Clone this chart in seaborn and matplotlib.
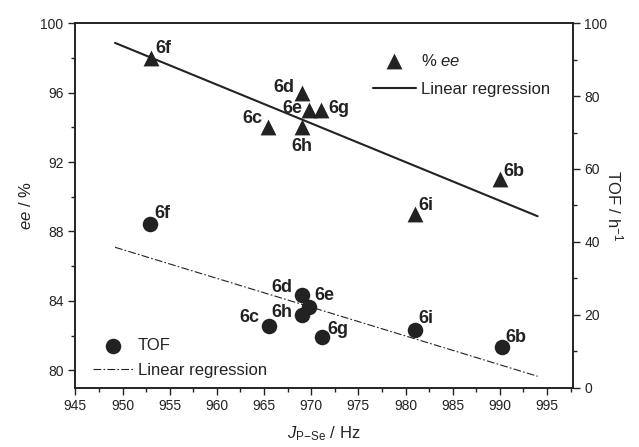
import numpy as np
import matplotlib
matplotlib.use("Agg")
import matplotlib.pyplot as plt
import matplotlib.ticker as ticker
import seaborn as sns
import pandas as pd

# data
labels = ["6f", "6d", "6e", "6g", "6c", "6h", "6b", "6i"]
j_ee = [953.0, 969.0, 969.8, 971.0, 965.4, 969.0, 990.0, 981.0]
ee = [98.0, 96.0, 95.0, 95.0, 94.0, 94.0, 91.0, 89.0]

tof_labels = ["6f", "6d", "6e", "6h", "6c", "6g", "6i", "6b"]
j_tof = [952.9, 969.0, 969.8, 969.0, 965.5, 971.1, 981.0, 990.2]
tof = [44.8, 25.3, 22.1, 19.9, 16.9, 14.0, 15.8, 11.0]

fit_range = [949.2, 994.0]

# label offsets (points) from each marker
ee_off = [(9, 7), (-13, 4), (-12, 1), (13, 1), (-11, 6), (0, -14), (10, 6), (8, 6)]
tof_off = [(9, 8), (-14, 6), (11, 8), (-14, 2), (-14, 6), (12, 5), (8, 8), (10, 7)]

sns.set_style("ticks")
plt.rcParams["font.family"] = ["Liberation Sans", "DejaVu Sans"]
plt.rcParams["mathtext.fontset"] = "custom"
plt.rcParams["mathtext.rm"] = "Liberation Sans"
plt.rcParams["mathtext.it"] = "Liberation Sans:italic"
ink = "#222222"

df_ee = pd.DataFrame({"J": j_ee, "ee": ee})
df_tof = pd.DataFrame({"J": j_tof, "TOF": tof})

# linear regressions from the data
p_ee = np.polyfit(j_ee, ee, 1)
p_tof = np.polyfit(j_tof, tof, 1)
fit_x = np.array(fit_range)
df_fit = pd.DataFrame({"J": fit_x, "ee": np.polyval(p_ee, fit_x),
                       "TOF": np.polyval(p_tof, fit_x)})

fig = plt.figure(figsize=(6.39, 4.47), dpi=100)
ax = fig.add_axes([0.118, 0.133, 0.778, 0.815])
ax2 = ax.twinx()

sns.lineplot(data=df_fit, x="J", y="ee", ax=ax, color=ink, lw=1.5)
sns.scatterplot(data=df_ee, x="J", y="ee", ax=ax, marker="^", s=130,
                color=ink, edgecolor=ink, linewidth=0, zorder=3)
sns.lineplot(data=df_fit, x="J", y="TOF", ax=ax2, color=ink, lw=0.8,
             linestyle=(0, (7, 2, 1.5, 2)))
sns.scatterplot(data=df_tof, x="J", y="TOF", ax=ax2, marker="o", s=125,
                color=ink, edgecolor=ink, linewidth=0, zorder=3)

bold = dict(fontsize=13, fontweight="bold", color=ink, ha="center", va="center",
            textcoords="offset points",
            family=["Liberation Sans Narrow", "Liberation Sans"])
for lab, x, y, off in zip(labels, j_ee, ee, ee_off):
    ax.annotate(lab, (x, y), xytext=off, **bold)
for lab, x, y, off in zip(tof_labels, j_tof, tof, tof_off):
    ax2.annotate(lab, (x, y), xytext=off, **bold)

ax.set_xlim(945, 997.7)
ax.set_ylim(79, 100)
ax2.set_ylim(0, 100)
ax.xaxis.set_major_locator(ticker.MultipleLocator(5))
ax.xaxis.set_minor_locator(ticker.MultipleLocator(2.5))
ax.yaxis.set_major_locator(ticker.MultipleLocator(4))
ax.yaxis.set_minor_locator(ticker.MultipleLocator(2))
ax2.yaxis.set_major_locator(ticker.MultipleLocator(20))
ax2.yaxis.set_minor_locator(ticker.MultipleLocator(10))

ax.tick_params(which="both", direction="out", colors=ink, labelsize=10, width=1)
ax.tick_params(which="major", length=5)
ax.tick_params(which="minor", length=3)
ax2.tick_params(axis="y", which="both", direction="out", colors=ink, labelsize=10, width=1)
ax2.tick_params(axis="y", which="major", length=5)
ax2.tick_params(axis="y", which="minor", length=3)
ax2.tick_params(axis="x", which="both", top=True, bottom=False, labelbottom=False,
                labeltop=False, direction="in", length=4, width=1, colors=ink)
for a in (ax, ax2):
    for s in a.spines.values():
        s.set_visible(True)
        s.set_linewidth(1.2)
        s.set_color(ink)

ax.set_xlabel(r"$J_{\rm P\!-\!Se}$ / Hz", fontsize=12, color=ink, labelpad=8)
ax.set_ylabel(r"$ee$ / %", fontsize=12, color=ink, labelpad=5)
ax2.set_ylabel(r"TOF / h$^{-1}$", fontsize=12, color=ink, rotation=270, labelpad=12)

h_ee = [ax.collections[-1], ax.lines[0]]
leg1 = ax2.legend(h_ee, [r"% $ee$", "Linear regression"], loc="upper right",
                  bbox_to_anchor=(0.985, 0.96), frameon=False, fontsize=12,
                  handlelength=2.6, handletextpad=0.3, labelspacing=0.8,
                  labelcolor=ink)
ax2.add_artist(leg1)
h_tof = [ax2.collections[-1], ax2.lines[0]]
ax2.legend(h_tof, ["TOF", "Linear regression"], loc="lower left",
           bbox_to_anchor=(0.005, -0.015), frameon=False, fontsize=12,
           handlelength=2.4, handletextpad=0.3, labelspacing=0.6,
           labelcolor=ink)

fig.savefig("out.png", dpi=100)
